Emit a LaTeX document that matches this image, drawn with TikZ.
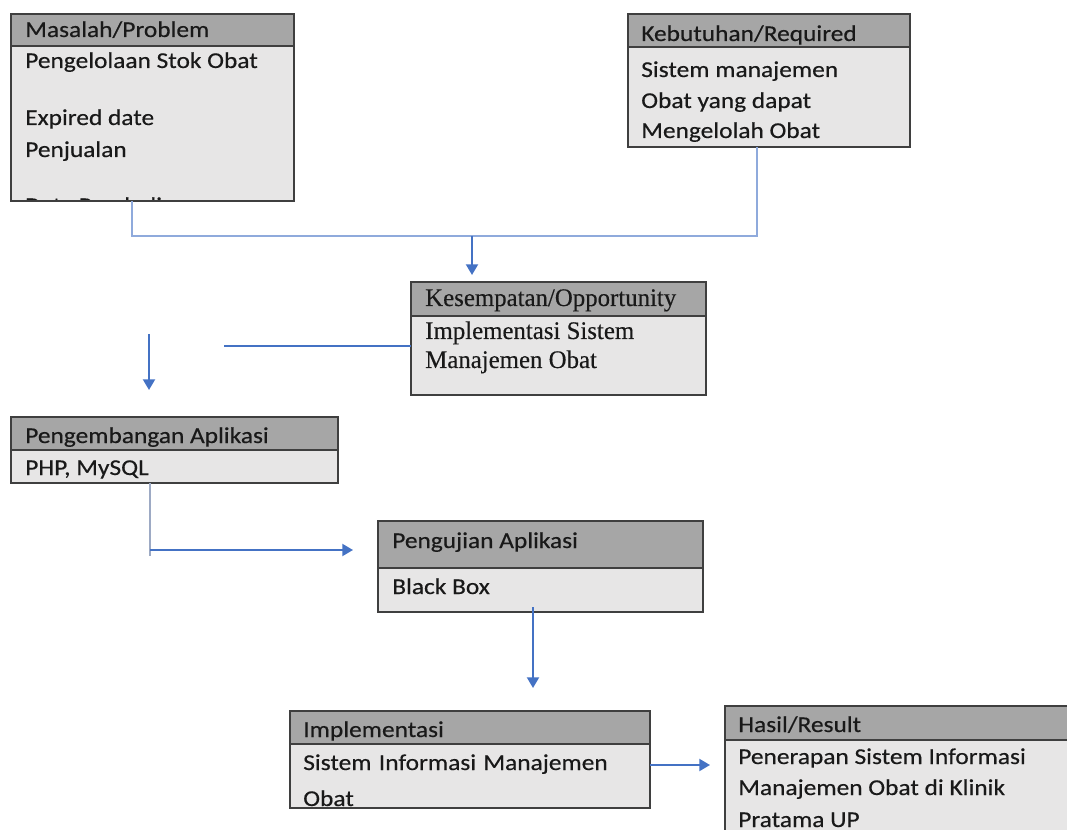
\documentclass[tikz,border=0pt]{standalone}
\usepackage{fontspec}
\usetikzlibrary{arrows.meta}
\newfontfamily\calib[FakeStretch=1.12,FakeBold=0.4]{Carlito}
\newfontfamily\tms[FakeStretch=0.98,FakeBold=0.3]{Liberation Serif}
\definecolor{hdrgray}{HTML}{A6A6A6}
\definecolor{bodygray}{HTML}{E7E6E6}
\definecolor{boxline}{HTML}{3F3F3F}
\definecolor{arrblue}{HTML}{4472C4}
\definecolor{lightblue}{HTML}{8FAADC}
\definecolor{grayblue}{HTML}{9DAAC4}
\tikzset{
  box/.style={draw=boxline, line width=1pt, rectangle, inner sep=0pt, outer sep=0pt, anchor=north west},
  hdr/.style={box, fill=hdrgray},
  bdy/.style={box, fill=bodygray},
  txt/.style={anchor=base west, inner sep=0pt, text=black!90, font=\calib\fontsize{17}{20}\selectfont},
  stxt/.style={anchor=base west, inner sep=0pt, text=black!90, font=\tms\fontsize{19}{23}\selectfont},
  arr/.style={draw=arrblue, line width=1.5pt, -{Triangle[length=8pt,width=9pt]}},
  conn/.style={draw=lightblue, line width=1.1pt},
  gconn/.style={draw=grayblue, line width=1.1pt},
}
\begin{document}
\begin{tikzpicture}[x=0.75pt,y=-0.75pt]
\useasboundingbox (0,0) rectangle (1067,830);
\clip (0,0) rectangle (1067,830);

% Masalah / Problem
\node[bdy, minimum width={283*0.75pt}, minimum height={155*0.75pt}] (mb) at (11,46) {};
\node[hdr, minimum width={283*0.75pt}, minimum height={32*0.75pt}] (mh) at (11,14) {};
\node[txt] (mt) at (25,37) {Masalah/Problem};
\node[txt] (m1) at (25,68) {Pengelolaan Stok Obat};
\node[txt] (m2) at (25,125) {Expired date};
\node[txt] (m3) at (25,157) {Penjualan};
\begin{scope}
  \clip (mb.north west) rectangle (mb.south east);
  \node[txt] (m4) at (25,213) {Data Pembelian};
\end{scope}
\draw[draw=boxline, line width=1pt] (mb.north west) rectangle (mb.south east);

% Kebutuhan / Required
\node[bdy, minimum width={282*0.75pt}, minimum height={100*0.75pt}] (kb) at (628,47) {};
\node[hdr, minimum width={282*0.75pt}, minimum height={33*0.75pt}] (kh) at (628,14) {};
\node[txt] (kt) at (641,41) {Kebutuhan/Required};
\node[txt] (k1) at (641,77) {Sistem manajemen};
\node[txt] (k2) at (641,108) {Obat yang dapat};
\node[txt] (k3) at (641,138) {Mengelolah Obat};

% Kesempatan / Opportunity
\node[bdy, minimum width={295*0.75pt}, minimum height={79*0.75pt}] (sb) at (411,316) {};
\node[hdr, minimum width={295*0.75pt}, minimum height={34*0.75pt}] (sh) at (411,282) {};
\node[stxt] (st) at (425,306) {Kesempatan/Opportunity};
\node[stxt] (s1) at (425,339) {Implementasi Sistem};
\node[stxt] (s2) at (425,368) {Manajemen Obat};

% Pengembangan Aplikasi
\node[bdy, minimum width={327*0.75pt}, minimum height={33*0.75pt}] (pb) at (11,450) {};
\node[hdr, minimum width={327*0.75pt}, minimum height={33*0.75pt}] (ph) at (11,417) {};
\node[txt] (pt) at (25,443) {Pengembangan Aplikasi};
\node[txt] (p1) at (25,475) {PHP, MySQL};

% Pengujian Aplikasi
\node[bdy, minimum width={325*0.75pt}, minimum height={44*0.75pt}] (ub) at (378,568) {};
\node[hdr, minimum width={325*0.75pt}, minimum height={47*0.75pt}] (uh) at (378,521) {};
\node[txt] (ut) at (392,548) {Pengujian Aplikasi};
\node[txt] (u1) at (392,594) {Black Box};

% Implementasi
\node[bdy, minimum width={360*0.75pt}, minimum height={64*0.75pt}] (ib) at (290,744) {};
\node[hdr, minimum width={360*0.75pt}, minimum height={33*0.75pt}] (ih) at (290,711) {};
\node[txt] (it) at (303,737) {Implementasi};
\node[txt] (i1) at (303,770) {Sistem\hspace{1.2pt} Informasi\hspace{1.2pt} Manajemen};
\node[txt] (i2) at (303,806) {Obat};

% Hasil / Result
\node[bdy, minimum width={380*0.75pt}, minimum height={160*0.75pt}] (hb) at (725,740) {};
\node[hdr, minimum width={380*0.75pt}, minimum height={34*0.75pt}] (hh) at (725,706) {};
\node[txt] (ht) at (738,732) {Hasil/Result};
\node[txt] (h1) at (738,764) {Penerapan Sistem Informasi};
\node[txt] (h2) at (738,795) {Manajemen Obat di Klinik};
\node[txt] (h3) at (738,827) {Pratama UP};

% connectors
\coordinate (j1) at (132,236);
\coordinate (j2) at (757,236);
\coordinate (j0) at (472,236);
\draw[conn] (mb.south -| j1) -- (j1) -- (j2) -- (kb.south -| j2);
\draw[arr] (j0) -- ([yshift=5.25pt]sh.north -| j0);

\coordinate (k0) at (224,346);
\draw[conn, draw=arrblue] (k0) -- (sb.west |- k0);
\coordinate (a0) at (149,334);
\coordinate (a1) at (149,390);
\draw[arr] (a0) -- (a1);

\coordinate (q1) at (150,556);
\coordinate (q2) at (150,550);
\draw[gconn] (pb.south -| q1) -- (q1);
\draw[arr] (q2) -- ([xshift=-18.75pt]uh.west |- q2);

\coordinate (u0) at (533,607);
\draw[arr] (u0) -- ([yshift=17.25pt]ih.north -| u0);

\coordinate (r0) at (650,765);
\draw[arr] (ib.east |- r0) -- ([xshift=-11.25pt]hb.west |- r0);
\end{tikzpicture}
\end{document}
